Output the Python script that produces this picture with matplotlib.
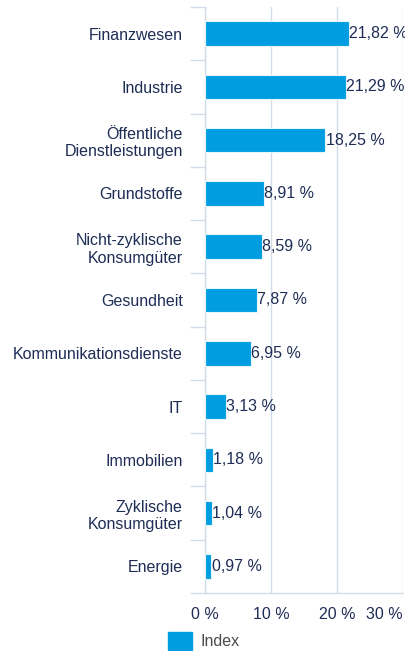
import matplotlib.pyplot as plt
from matplotlib.patches import Patch
from matplotlib.ticker import FixedLocator

categories = [
    "Finanzwesen",
    "Industrie",
    "Öffentliche\nDienstleistungen",
    "Grundstoffe",
    "Nicht-zyklische\nKonsumgüter",
    "Gesundheit",
    "Kommunikationsdienste",
    "IT",
    "Immobilien",
    "Zyklische\nKonsumgüter",
    "Energie",
]
values = [21.82, 21.29, 18.25, 8.91, 8.59, 7.87, 6.95, 3.13, 1.18, 1.04, 0.97]
xticks = [0, 10, 20, 30]
series_name = "Index"

bar_color = "#009EE0"
text_color = "#1E2D55"
grid_color = "#D3DCEA"
fs = 11.5

plt.rcParams["font.family"] = ["Liberation Sans", "DejaVu Sans"]

fig = plt.figure(figsize=(4.06, 6.51), dpi=100)
ax = fig.add_axes([205 / 406, 1 - 593 / 651, 198 / 406, 586 / 651])

y = list(range(len(categories)))
ax.barh(y, values, height=0.46, color=bar_color, edgecolor="#E6F5FC", linewidth=0.8, zorder=3)

for yi, v in zip(y, values):
    ax.text(v + 0.05, yi, f"{v:.2f} %".replace(".", ","), va="center", ha="left",
            fontsize=fs, color=text_color, zorder=4)

ax.set_ylim(len(categories) - 0.5, -0.5)
ax.set_xlim(0, 30)

ax.set_yticks(y)
ax.set_yticklabels(categories, fontsize=fs, color=text_color, ha="right", multialignment="right")
ax.yaxis.set_minor_locator(FixedLocator([i - 0.5 for i in range(len(categories) + 1)]))
ax.tick_params(axis="y", which="major", length=0, pad=16)
ax.tick_params(axis="y", which="minor", length=11, width=1, color=grid_color)

ax.set_xticks(xticks)
labels = ax.set_xticklabels([f"{t} %" for t in xticks], fontsize=fs, color=text_color)
labels[-1].set_horizontalalignment("right")
ax.tick_params(axis="x", length=0, pad=10)

ax.grid(axis="x", color=grid_color, linewidth=1, zorder=0)
for side in ["top", "right"]:
    ax.spines[side].set_visible(False)
for side in ["left", "bottom"]:
    ax.spines[side].set_color(grid_color)
    ax.spines[side].set_linewidth(1)

fig.legend(handles=[Patch(color=bar_color, label=series_name)], loc="center left",
           bbox_to_anchor=(154 / 406, 1 - 641 / 651), frameon=False, fontsize=fs,
           handlelength=1.5, handleheight=1.3, handletextpad=0.5, labelcolor="#4A4A4A")

fig.savefig("out.png", dpi=100)
